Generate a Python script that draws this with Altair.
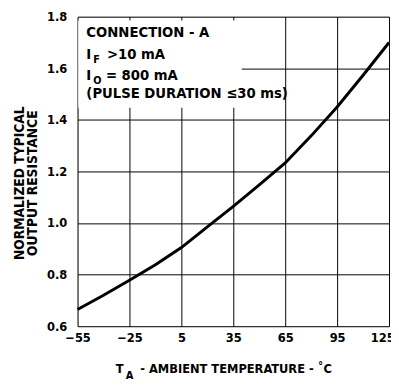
import altair as alt
import pandas as pd

temps = [-55, -40, -25, -10, 5, 20, 35, 50, 65, 80, 95, 110, 125]
resistance = [0.665, 0.72, 0.778, 0.838, 0.905, 0.985, 1.065, 1.148, 1.233, 1.338, 1.45, 1.573, 1.70]

x_ticks = [-55, -25, 5, 35, 65, 95, 125]
y_ticks = [0.6, 0.8, 1.0, 1.2, 1.4, 1.6, 1.8]

# white label boxes behind the annotation
box_x1 = [-54.6, 39.9]
box_x2 = [39.9, 62.5]
box_y1 = [1.447, 1.447]
box_y2 = [1.785, 1.523]

FONT = "'DejaVu Sans Condensed', 'Liberation Sans', sans-serif"

df = pd.DataFrame({"t": temps, "r": resistance})
box = pd.DataFrame({"x": box_x1, "x2": box_x2, "y": box_y1, "y2": box_y2})

xs = alt.Scale(domain=[-55, 125], nice=False, zero=False)
ys = alt.Scale(domain=[0.6, 1.8], nice=False, zero=False)

line = alt.Chart(df).mark_line(color="black", strokeWidth=3).encode(
    x=alt.X("t:Q", scale=xs, axis=alt.Axis(values=x_ticks, title=None, grid=True, gridColor="black",
                                             gridOpacity=1, gridWidth=1, ticks=False, domain=False,
                                             labelFont=FONT, labelFontSize=13, labelFontWeight="bold",
                                             labelColor="black", labelPadding=6, labelOverlap=False,
                                             labelFlush=False,
                                             labelOffset={"condition": {"test": "datum.value == 125", "value": -7},
                                                          "value": 0})),
    y=alt.Y("r:Q", scale=ys, axis=alt.Axis(values=y_ticks, title=None, grid=True, gridColor="black",
                                             gridOpacity=1, gridWidth=1, ticks=False, domain=False,
                                             format=".1f",
                                             labelFont=FONT, labelFontSize=13, labelFontWeight="bold",
                                             labelColor="black", labelPadding=11, labelOverlap=False,
                                             labelFlush=False)),
)

rect = alt.Chart(box).mark_rect(color="white", opacity=1).encode(
    x=alt.X("x:Q", scale=xs), x2="x2:Q", y=alt.Y("y:Q", scale=ys), y2="y2:Q"
)

def txt(s, x, y, size=15, angle=0, align="left"):
    return alt.Chart(pd.DataFrame({"s": [s]})).mark_text(
        font=FONT, fontSize=size, fontWeight="bold", color="black", align=align,
        baseline="alphabetic", angle=angle
    ).encode(text="s:N", x=alt.value(x), y=alt.value(y))

# positions relative to the plot area's top-left corner
annots = [
    txt("CONNECTION - A", 9, 21),
    txt("I", 9, 43),
    txt("F", 16, 47, size=11),
    txt(">10 mA", 30, 43),
    txt("I", 9, 65),
    txt("O", 16, 69, size=11),
    txt("= 800 mA", 29, 65),
    txt("(PULSE DURATION \u226430 ms)", 9, 83),
    txt("T", 39, 364, size=13),
    txt("A", 49, 371, size=12),
    txt("- AMBIENT TEMPERATURE - \u02daC", 64, 364, size=13),
    txt("NORMALIZED TYPICAL", -55, 170, size=14, angle=270, align="center"),
    txt("OUTPUT RESISTANCE", -41, 170, size=14, angle=270, align="center"),
]

chart = alt.layer(rect, line, *annots).properties(
    width=318, height=316,
    autosize=alt.AutoSizeParams(type="none"),
    padding={"left": 71, "top": 5, "right": 2, "bottom": 50},
).configure_view(stroke="black", strokeWidth=1.5).configure(background="white")

chart.save("out.html", embed_options={"renderer": "svg", "actions": False})
